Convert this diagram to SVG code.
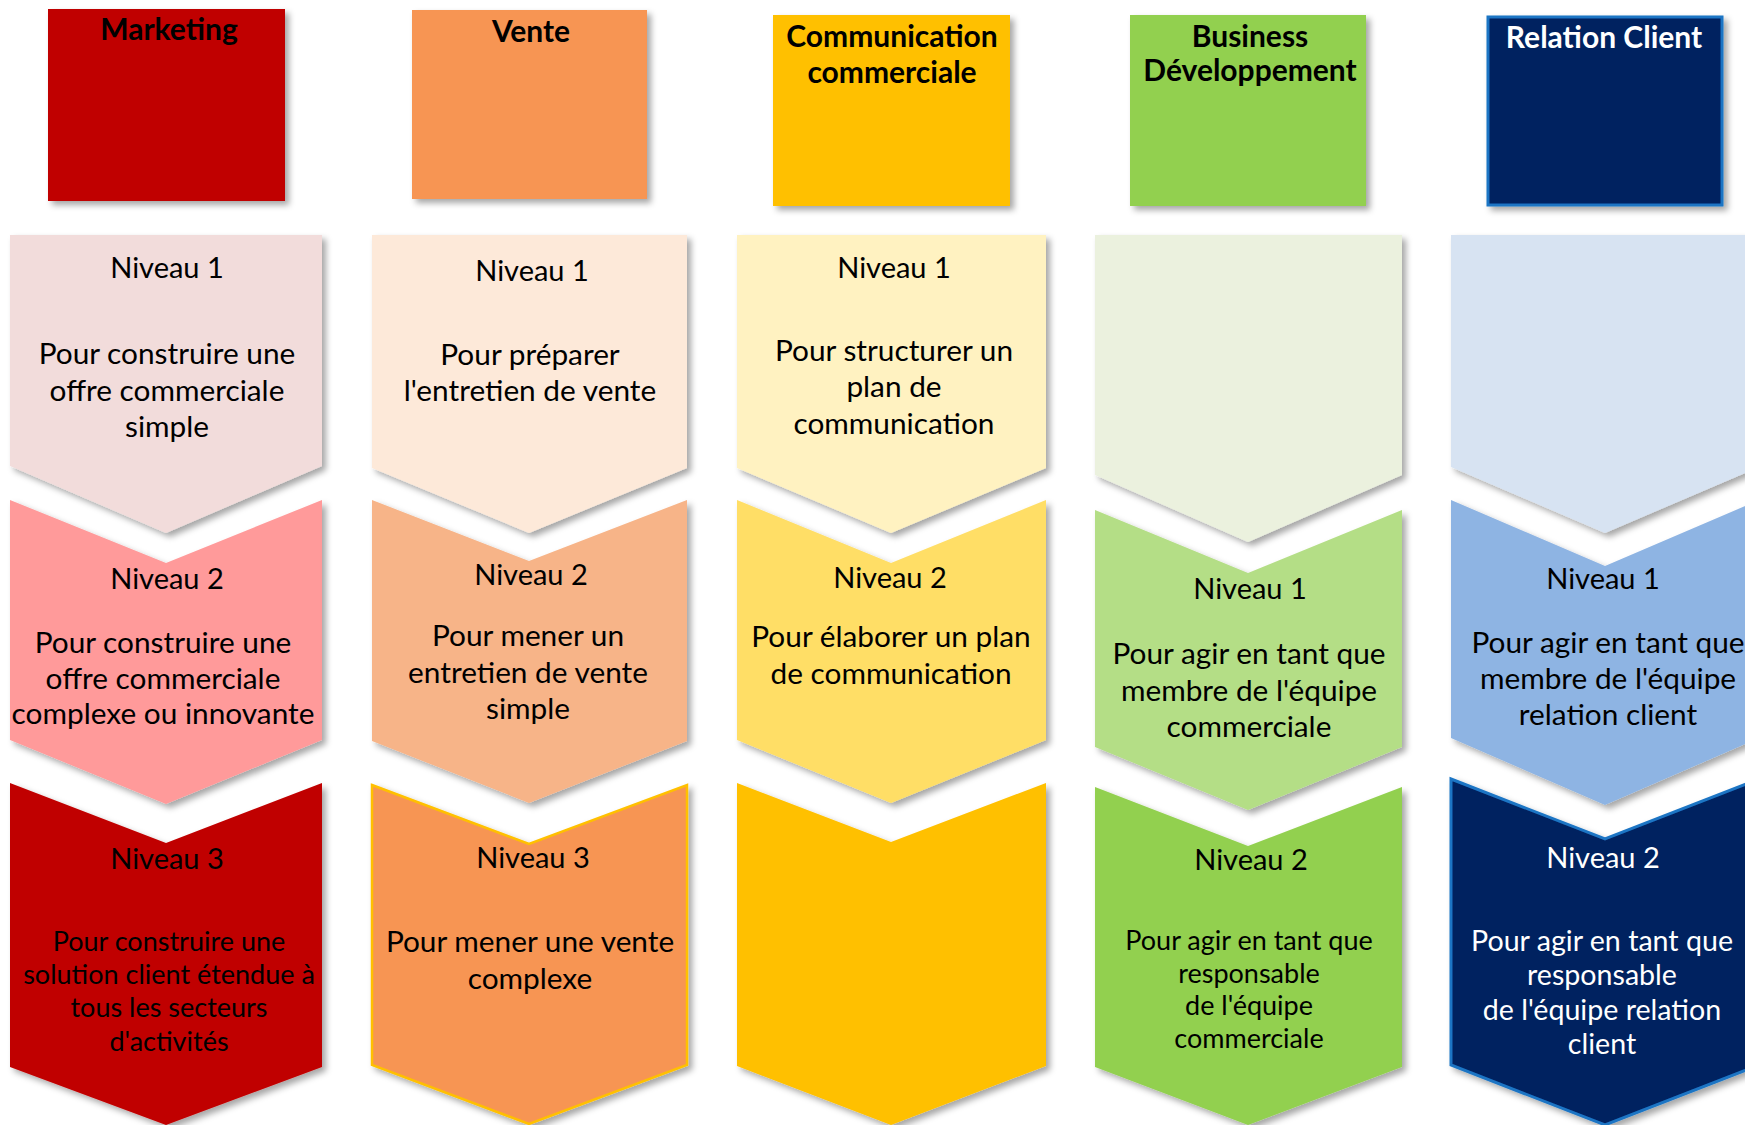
<svg xmlns="http://www.w3.org/2000/svg" width="1745" height="1125" viewBox="0 0 1745 1125">
  <defs>
    <filter id="shadow" x="-10%" y="-10%" width="125%" height="125%">
      <feDropShadow dx="4" dy="4" stdDeviation="3" flood-color="#000" flood-opacity="0.35"/>
    </filter>
  </defs>
  <style>
    .hdr { font-family: Lato, "Liberation Sans", sans-serif; font-weight: 700; font-size: 30px; text-anchor: middle; fill: #000; }
    .txt { font-family: Lato, "Liberation Sans", sans-serif; font-size: 29.8px; text-anchor: middle; fill: #000; }
    .lvl { font-size: 29px; }
    .sm { font-size: 27px; }
    .md { font-size: 28.6px; }
    .w { fill: #fff; }
    .shape { filter: url(#shadow); }
  </style>

  <rect width="1745" height="1125" fill="#fff"/>

  <!-- column headers -->
  <g id="hdr-marketing">
    <rect class="shape" x="48" y="9" width="237" height="192" fill="#C00000"/>
    <text class="hdr" x="169" y="40">Marketing</text>
  </g>
  <g id="hdr-vente">
    <rect class="shape" x="412" y="10" width="235" height="189" fill="#F79552"/>
    <text class="hdr" x="531" y="42">Vente</text>
  </g>
  <g id="hdr-communication">
    <rect class="shape" x="773" y="15" width="237" height="191" fill="#FFC000"/>
    <text class="hdr" x="892" y="47">Communication</text>
    <text class="hdr" x="892" y="83">commerciale</text>
  </g>
  <g id="hdr-business">
    <rect class="shape" x="1130" y="15" width="236" height="191" fill="#92D050"/>
    <text class="hdr" x="1250" y="47">Business</text>
    <text class="hdr" x="1250" y="81">Développement</text>
  </g>
  <g id="hdr-relation">
    <rect class="shape" x="1488" y="17" width="234" height="188" fill="#002060" stroke="#1B74C4" stroke-width="3"/>
    <text class="hdr w" x="1604" y="48">Relation Client</text>
  </g>

  <!-- Marketing column -->
  <g id="mkt-n1">
    <path class="shape" d="M10,235 H322 V466 L166,533 L10,466 Z" fill="#F2DCDB"/>
    <text class="txt lvl" x="167" y="278">Niveau 1</text>
    <text class="txt" x="167" y="364">Pour construire une</text>
    <text class="txt" x="167" y="401">offre commerciale</text>
    <text class="txt" x="167" y="437">simple</text>
  </g>
  <g id="mkt-n2">
    <path class="shape" d="M10,500 L166,563 L322,500 V740 L166,804 L10,740 Z" fill="#FF9A9A"/>
    <text class="txt lvl" x="167" y="589">Niveau 2</text>
    <text class="txt" x="163" y="653">Pour construire une</text>
    <text class="txt" x="163" y="689">offre commerciale</text>
    <text class="txt" x="163" y="724">complexe ou innovante</text>
  </g>
  <g id="mkt-n3">
    <path class="shape" d="M10,783 L166,843 L322,783 V1067 L166,1125 L10,1067 Z" fill="#C00000"/>
    <text class="txt lvl" x="167" y="869">Niveau 3</text>
    <text class="txt sm" x="169" y="951">Pour construire une</text>
    <text class="txt sm" x="169" y="984">solution client étendue à</text>
    <text class="txt sm" x="169" y="1017">tous les secteurs</text>
    <text class="txt sm" x="169" y="1051">d'activités</text>
  </g>

  <!-- Vente column -->
  <g id="vente-n1">
    <path class="shape" d="M372,235 H687 V468 L529,533 L372,468 Z" fill="#FDE9D9"/>
    <text class="txt lvl" x="532" y="281">Niveau 1</text>
    <text class="txt" x="530" y="365">Pour préparer</text>
    <text class="txt" x="530" y="401">l'entretien de vente</text>
  </g>
  <g id="vente-n2">
    <path class="shape" d="M372,500 L529,561 L687,500 V741 L529,803 L372,741 Z" fill="#F7B488"/>
    <text class="txt lvl" x="531" y="585">Niveau 2</text>
    <text class="txt" x="528" y="646">Pour mener un</text>
    <text class="txt" x="528" y="683">entretien de vente</text>
    <text class="txt" x="528" y="719">simple</text>
  </g>
  <g id="vente-n3">
    <path class="shape" d="M372,785 L529,844 L687,785 V1065 L529,1124 L372,1065 Z" fill="#F79552" stroke="#FFC000" stroke-width="2.5"/>
    <text class="txt lvl" x="533" y="868">Niveau 3</text>
    <text class="txt" x="530" y="952">Pour mener une vente</text>
    <text class="txt" x="530" y="989">complexe</text>
  </g>

  <!-- Communication commerciale column -->
  <g id="comm-n1">
    <path class="shape" d="M737,235 H1046 V468 L891,533 L737,468 Z" fill="#FFF2C1"/>
    <text class="txt lvl" x="894" y="278">Niveau 1</text>
    <text class="txt" x="894" y="361">Pour structurer un</text>
    <text class="txt" x="894" y="397">plan de</text>
    <text class="txt" x="894" y="434">communication</text>
  </g>
  <g id="comm-n2">
    <path class="shape" d="M737,500 L891,563 L1046,500 V740 L891,803 L737,740 Z" fill="#FFDE66"/>
    <text class="txt lvl" x="890" y="588">Niveau 2</text>
    <text class="txt" x="891" y="647">Pour élaborer un plan</text>
    <text class="txt" x="891" y="684">de communication</text>
  </g>
  <g id="comm-n3">
    <path class="shape" d="M737,783 L891,842 L1046,783 V1066 L891,1125 L737,1066 Z" fill="#FFC000"/>
  </g>

  <!-- Business Développement column -->
  <g id="biz-top">
    <path class="shape" d="M1095,235 H1402 V475 L1248,542 L1095,475 Z" fill="#EBF1DE"/>
  </g>
  <g id="biz-n1">
    <path class="shape" d="M1095,510 L1248,573 L1402,510 V747 L1248,810 L1095,747 Z" fill="#B4DE86"/>
    <text class="txt lvl" x="1250" y="599">Niveau 1</text>
    <text class="txt" x="1249" y="664">Pour agir en tant que</text>
    <text class="txt" x="1249" y="701">membre de l'équipe</text>
    <text class="txt" x="1249" y="737">commerciale</text>
  </g>
  <g id="biz-n2">
    <path class="shape" d="M1095,787 L1248,846 L1402,787 V1067 L1248,1125 L1095,1067 Z" fill="#92D050"/>
    <text class="txt lvl" x="1251" y="870">Niveau 2</text>
    <text class="txt sm" x="1249" y="950">Pour agir en tant que</text>
    <text class="txt sm" x="1249" y="983">responsable</text>
    <text class="txt sm" x="1249" y="1015">de l'équipe</text>
    <text class="txt sm" x="1249" y="1048">commerciale</text>
  </g>

  <!-- Relation Client column -->
  <g id="rel-top">
    <path class="shape" d="M1451,235 H1759 V467 L1605,533 L1451,467 Z" fill="#D7E3F2"/>
  </g>
  <g id="rel-n1">
    <path class="shape" d="M1451,500 L1605,566 L1759,500 V738 L1605,805 L1451,738 Z" fill="#8EB4E3"/>
    <text class="txt lvl" x="1603" y="589">Niveau 1</text>
    <text class="txt" x="1608" y="653">Pour agir en tant que</text>
    <text class="txt" x="1608" y="689">membre de l'équipe</text>
    <text class="txt" x="1608" y="725">relation client</text>
  </g>
  <g id="rel-n2">
    <path class="shape" d="M1451,779 L1605,839 L1759,779 V1065 L1605,1125 L1451,1065 Z" fill="#002060" stroke="#1B74C4" stroke-width="3"/>
    <text class="txt lvl w" x="1603" y="868">Niveau 2</text>
    <text class="txt md w" x="1602" y="951">Pour agir en tant que</text>
    <text class="txt md w" x="1602" y="985">responsable</text>
    <text class="txt md w" x="1602" y="1020">de l'équipe relation</text>
    <text class="txt md w" x="1602" y="1054">client</text>
  </g>
</svg>
